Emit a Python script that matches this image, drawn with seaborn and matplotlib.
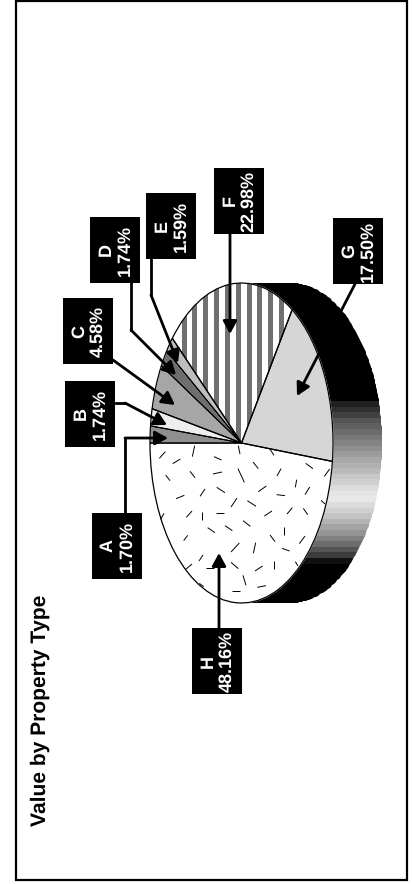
"""Rotated 3D style pie chart of value by property type."""

import matplotlib

matplotlib.use("Agg")
import matplotlib.pyplot as plt
import numpy as np
import seaborn as sns
from matplotlib.collections import LineCollection
from matplotlib.path import Path
from matplotlib.patches import Rectangle

W, H = 414, 884

# chart values
names = ["A", "B", "C", "D", "E", "F", "G", "H"]
shares = [1.70, 1.74, 4.58, 1.74, 1.59, 22.98, 17.50, 48.16]
title = "Value by Property Type"

# look of the slices
slice_colors = ["#8f8f8f", "#eeeeee", "#a6a6a6", "#6e6e6e", "#bebebe", "#ffffff", "#d6d6d6", "#ffffff"]

# grey steps of the side wall, top to bottom
wall_steps = [0] * 21 + [
    0x20, 0x30, 0x40, 0x55, 0x60, 0x6c, 0x78, 0x84, 0x90, 0x9c, 0xa8, 0xb0, 0xba, 0xc8, 0xd0,
    0xdc, 0xe4, 0xe8, 0xdc, 0xd0, 0xc4, 0xb4, 0xa4, 0x94, 0x80, 0x6c, 0x54, 0x3c, 0x10,
] + [0] * 7

# ellipse of the top face, in image pixels
cx, cy, rx, ry = 241.5, 443.0, 91.5, 160.0
depth = 49.0

# label boxes: left, top of a 50 x 66 box
boxes = {
    "A": (92, 513), "B": (65, 381), "C": (63, 298), "D": (90, 217),
    "E": (146, 193), "F": (214, 168), "G": (333, 218), "H": (192, 628),
}
# leader lines, the last point is the arrow tip
leaders = {
    "A": [(125, 513), (125, 438), (168, 438)],
    "B": [(116, 403), (125, 403), (167, 425)],
    "C": [(113, 360), (175, 405)],
    "D": [(131, 283), (131, 330), (176, 375)],
    "E": [(151, 259), (151, 295), (178, 363)],
    "F": [(230, 234), (230, 334)],
    "G": [(355, 284), (297, 396)],
    "H": [(219, 628), (219, 553)],
}

# short dashes of the H texture
dashes = [
    (418, 85, 436, 65), (458, 101, 481, 87), (517, 80, 524, 47), (582, 80, 605, 90),
    (655, 47, 660, 72), (750, 58, 762, 76), (857, 100, 879, 116), (699, 96, 715, 116),
    (579, 132, 606, 126), (510, 124, 525, 143), (437, 135, 450, 152), (654, 116, 673, 157),
    (771, 138, 783, 116), (913, 139, 929, 117), (826, 172, 830, 149), (855, 194, 869, 171),
    (715, 185, 739, 168), (590, 172, 615, 188), (540, 199, 555, 177), (468, 206, 493, 196),
    (770, 194, 795, 197), (633, 231, 651, 204), (682, 212, 708, 229), (903, 211, 915, 222),
    (801, 252, 817, 233), (850, 235, 863, 254), (733, 258, 756, 243), (499, 262, 516, 243),
    (547, 245, 547, 270), (589, 248, 612, 248), (669, 272, 691, 289), (615, 287, 637, 302),
    (563, 293, 585, 308), (491, 332, 503, 316), (791, 292, 791, 316), (750, 315, 765, 335),
    (838, 341, 855, 318), (633, 366, 658, 339), (700, 370, 707, 338), (786, 355, 809, 363),
    (537, 393, 549, 375), (633, 397, 655, 416), (762, 392, 762, 416), (705, 423, 728, 408),
    (558, 415, 582, 415), (497, 418, 516, 402), (826, 395, 834, 408), (669, 436, 678, 466),
    (712, 472, 738, 467), (636, 482, 660, 482), (422, 268, 432, 250), (538, 460, 551, 470),
]


def px_axes(fig, left, top, right, bottom, **kw):
    """Axes placed by image pixels."""
    return fig.add_axes([left / W, 1 - bottom / H, (right - left) / W, (bottom - top) / H], **kw)


sns.set_theme(style="white")
plt.rcParams["font.family"] = ["Liberation Sans", "DejaVu Sans"]
plt.rcParams["font.weight"] = "bold"
plt.rcParams["text.hinting"] = "none"
plt.rcParams["text.hinting_factor"] = 1

fig = plt.figure(figsize=(W / 100, H / 100), dpi=100, facecolor="white")

# overlay in pixels, for frame, labels and leaders
ax = px_axes(fig, 0, 0, W, H, zorder=3)
ax.set_xlim(0, W)
ax.set_ylim(H, 0)
ax.axis("off")
ax.patch.set_alpha(0)

# side wall
ax_wall = px_axes(fig, cx, cy - ry, cx + rx + depth, cy + ry, zorder=1)
sns.heatmap(np.array(wall_steps).reshape(-1, 1), ax=ax_wall, cmap="gray", vmin=0, vmax=255,
            cbar=False, xticklabels=False, yticklabels=False)
ax_wall.axis("off")
t = np.linspace(np.pi / 2, -np.pi / 2, 200)
outer = np.column_stack([cx + depth + rx * np.cos(t), cy - ry * np.sin(t)])
inner = np.column_stack([cx + rx * np.cos(t[::-1]), cy - ry * np.sin(t[::-1])])
ax_wall.collections[0].set_clip_path(Path(np.vstack([outer, inner, outer[:1]])), ax.transData)

# top face
ax_pie = px_axes(fig, cx - rx, cy - ry, cx + rx, cy + ry, zorder=2)
wedges, _ = ax_pie.pie(shares, colors=slice_colors, startangle=180, counterclock=False, radius=1)
for stripe in np.arange(181.7, 285, 10.8):
    span = ax_pie.axvspan((stripe - cx) / rx, (stripe + 5 - cx) / rx, color="#707070", lw=0, zorder=wedges[5].get_zorder())
    span.set_clip_path(wedges[5])
outline, _ = ax_pie.pie(shares, startangle=180, counterclock=False, radius=1,
                        wedgeprops={"fill": False, "edgecolor": "black", "linewidth": 0.9})
for w in outline:
    w.set_clip_on(False)
ax_pie.set_aspect("auto")
ax_pie.set_xlim(-1, 1)
ax_pie.set_ylim(-1, 1)
ax_pie.patch.set_alpha(0)

# H texture
segs = [[(20 + a / 3, 430 + b / 3), (20 + c / 3, 430 + d / 3)] for a, b, c, d in dashes]
ax.add_collection(LineCollection(segs, colors="black", linewidths=0.7))

# frame and title
ax.add_patch(Rectangle((16, 1), 391, 879, fill=False, edgecolor="black", linewidth=1.6))
ax.text(40, 826, title, rotation=90, ha="center", va="bottom", fontsize=15.2, color="black")

# labels and leaders
for name, share in zip(names, shares):
    left, top = boxes[name]
    ax.add_patch(Rectangle((left, top), 50, 66, facecolor="black", edgecolor="none", zorder=4))
    ax.text(left + 16, top + 33, name, rotation=90, ha="center", va="center",
            color="white", fontsize=13, zorder=5)
    ax.text(left + 35, top + 33, f"{share:.2f}%", rotation=90, ha="center", va="center",
            color="white", fontsize=13, zorder=5)
    pts = leaders[name]
    if len(pts) > 2:
        ax.plot(*zip(*pts[:-1]), color="black", lw=2, solid_capstyle="projecting", zorder=3)
    ax.annotate("", xy=pts[-1], xytext=pts[-2], zorder=3,
                arrowprops=dict(arrowstyle="-|>,head_length=0.55,head_width=0.3", color="black",
                                lw=2, shrinkA=0, shrinkB=0, mutation_scale=14))

fig.savefig("out.png", dpi=100)
